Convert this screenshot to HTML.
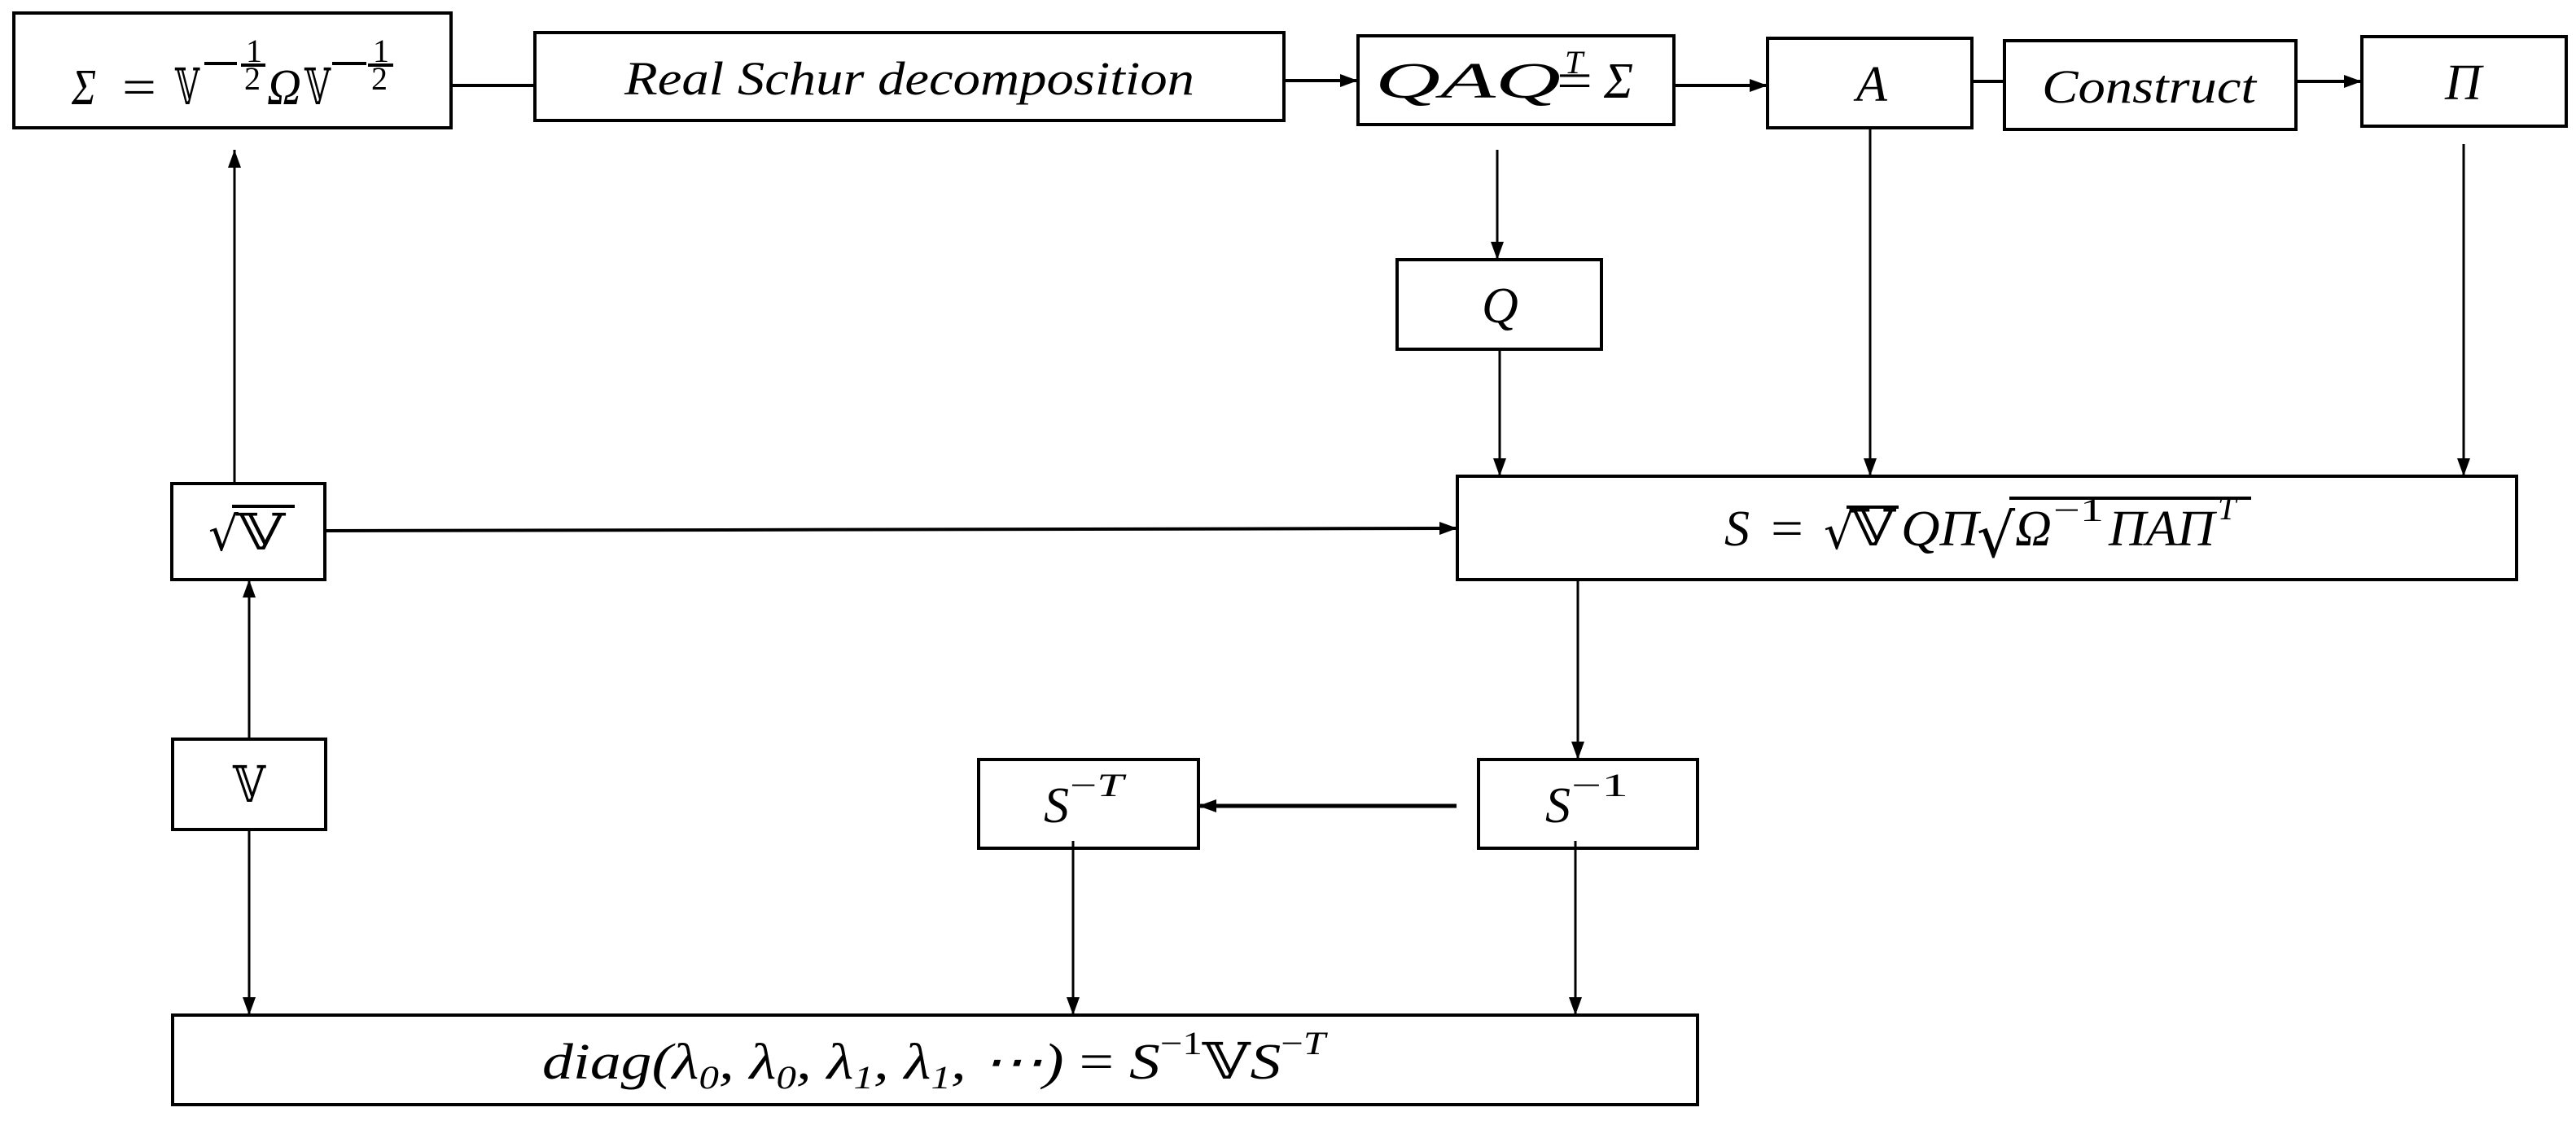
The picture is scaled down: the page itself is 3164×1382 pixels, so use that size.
<!DOCTYPE html>
<html><head><meta charset="utf-8"><style>
html,body{margin:0;padding:0;background:#fff;}
svg{display:block;}
text{font-family:"Liberation Serif",serif;font-style:italic;fill:#000;}
.dv{font-family:"DejaVu Serif","DejaVu Sans",serif;font-style:normal;}
.up{font-style:normal;}
</style></head><body>
<svg width="3164" height="1382" viewBox="0 0 3164 1382" xmlns="http://www.w3.org/2000/svg">
<defs>
<marker id="ah" viewBox="0 0 22 16" refX="22" refY="8" markerWidth="22" markerHeight="16" markerUnits="userSpaceOnUse" orient="auto">
<polygon points="0,0 22,8 0,16" fill="#000"/></marker>
</defs>
<g fill="none" stroke="#000" stroke-width="4">
<rect x="17" y="16" width="537" height="141"/>
<rect x="657" y="40" width="920" height="108"/>
<rect x="1668" y="44" width="388" height="109"/>
<rect x="2171" y="47" width="251" height="110"/>
<rect x="2462" y="50" width="358" height="109"/>
<rect x="2901" y="45" width="251" height="110"/>
<rect x="1716" y="319" width="251" height="110"/>
<rect x="1790" y="585" width="1301" height="127"/>
<rect x="211" y="594" width="188" height="118"/>
<rect x="212" y="908" width="188" height="111"/>
<rect x="1202" y="933" width="270" height="109"/>
<rect x="1816" y="933" width="269" height="109"/>
<rect x="212" y="1247" width="1873" height="110"/>
</g>
<g stroke="#000" stroke-width="3" fill="none">
<line x1="554" y1="105" x2="657" y2="105" stroke-width="4"/>
<line x1="1577" y1="99" x2="1668" y2="99" stroke-width="4" marker-end="url(#ah)"/>
<line x1="2056" y1="105" x2="2171" y2="105" stroke-width="4" marker-end="url(#ah)"/>
<line x1="2422" y1="100" x2="2462" y2="100" stroke-width="4"/>
<line x1="2820" y1="100" x2="2901" y2="100" stroke-width="4" marker-end="url(#ah)"/>
<line x1="1839" y1="184" x2="1839" y2="319" marker-end="url(#ah)"/>
<line x1="1842" y1="429" x2="1842" y2="585" marker-end="url(#ah)"/>
<line x1="2297" y1="157" x2="2297" y2="585" marker-end="url(#ah)"/>
<line x1="3026" y1="177" x2="3026" y2="585" marker-end="url(#ah)"/>
<line x1="399" y1="652" x2="1790" y2="649" stroke-width="4" marker-end="url(#ah)"/>
<line x1="288" y1="594" x2="288" y2="184" marker-end="url(#ah)"/>
<line x1="306" y1="908" x2="306" y2="712" marker-end="url(#ah)"/>
<line x1="306" y1="1019" x2="306" y2="1247" marker-end="url(#ah)"/>
<line x1="1938" y1="714" x2="1938" y2="933" marker-end="url(#ah)"/>
<line x1="1789" y1="990" x2="1472" y2="990" stroke-width="5" marker-end="url(#ah)"/>
<line x1="1318" y1="1033" x2="1318" y2="1247" marker-end="url(#ah)"/>
<line x1="1935" y1="1033" x2="1935" y2="1247" marker-end="url(#ah)"/>
</g>
<!-- Sigma formula -->
<g font-size="62">
<text x="88" y="128" textLength="30" lengthAdjust="spacingAndGlyphs">Σ</text>
<text class="up" x="150" y="128" textLength="42" lengthAdjust="spacingAndGlyphs">=</text>
<text class="dv" x="215" y="128" textLength="30" lengthAdjust="spacingAndGlyphs">𝕍</text>
<text x="328" y="128" textLength="42" lengthAdjust="spacingAndGlyphs">Ω</text>
<text class="dv" x="374" y="128" textLength="32" lengthAdjust="spacingAndGlyphs">𝕍</text>
</g>
<g stroke="#000" stroke-width="4">
<line x1="251" y1="78" x2="291" y2="78"/><line x1="296" y1="80" x2="326" y2="80"/>
<line x1="408" y1="78" x2="450" y2="78"/><line x1="452" y1="80" x2="483" y2="80"/>
</g>
<g font-size="40" class="up">
<text class="up" x="302" y="76">1</text><text class="up" x="300" y="110">2</text>
<text class="up" x="458" y="76">1</text><text class="up" x="456" y="110">2</text>
</g>
<text x="767" y="116" font-size="58" textLength="700" lengthAdjust="spacingAndGlyphs">Real Schur decomposition</text>
<text x="1689" y="120" font-size="62" textLength="228" lengthAdjust="spacingAndGlyphs">QAQ</text>
<text x="1922" y="90" font-size="40">T</text>
<text class="up" x="1912" y="120" font-size="62" textLength="44" lengthAdjust="spacingAndGlyphs" dx="0">=</text>
<text x="1970" y="120" font-size="62" textLength="36" lengthAdjust="spacingAndGlyphs">Σ</text>
<text x="2280" y="124" font-size="62">A</text>
<text x="2508" y="126" font-size="58" textLength="263" lengthAdjust="spacingAndGlyphs">Construct</text>
<text x="3003" y="122" font-size="62">Π</text>
<text x="1820" y="396" font-size="62">Q</text>
<!-- S formula -->
<g font-size="62">
<text x="2118" y="670">S</text>
<text class="up" x="2175" y="670" textLength="40" lengthAdjust="spacingAndGlyphs">=</text>
<text class="dv" x="2240" y="674" font-size="58">√</text>
<text class="dv" x="2272" y="670" textLength="56" lengthAdjust="spacingAndGlyphs">𝕍</text>
<text x="2335" y="670" textLength="95" lengthAdjust="spacingAndGlyphs">QΠ</text>
<text class="dv" x="2428" y="684" font-size="74">√</text>
<text x="2475" y="670" textLength="45" lengthAdjust="spacingAndGlyphs">Ω</text>
<text class="up" x="2522" y="640" font-size="40" textLength="62" lengthAdjust="spacingAndGlyphs">−1</text>
<text x="2590" y="670" textLength="130" lengthAdjust="spacingAndGlyphs">ΠAΠ</text>
<text x="2724" y="638" font-size="40">T</text>
</g>
<g stroke="#000" stroke-width="4">
<line x1="2268" y1="623" x2="2332" y2="623"/>
<line x1="2468" y1="612" x2="2765" y2="612"/>
<line x1="285" y1="622" x2="362" y2="622"/>
</g>
<text class="dv" x="256" y="676" font-size="58">√</text>
<text class="dv" x="290" y="675" font-size="62" textLength="60" lengthAdjust="spacingAndGlyphs">𝕍</text>
<text class="dv" x="286" y="985" font-size="62" textLength="40" lengthAdjust="spacingAndGlyphs">𝕍</text>
<text x="1282" y="1010" font-size="62">S</text>
<text x="1314" y="978" font-size="40" textLength="66" lengthAdjust="spacingAndGlyphs"><tspan class="up">−</tspan>T</text>
<text x="1898" y="1010" font-size="62">S</text>
<text class="up" x="1930" y="978" font-size="40" textLength="70" lengthAdjust="spacingAndGlyphs">−1</text>
<!-- diag -->
<text x="666" y="1325" font-size="62" textLength="962" lengthAdjust="spacingAndGlyphs">diag(λ<tspan font-size="40" dy="12">0</tspan><tspan dy="-12">, λ</tspan><tspan font-size="40" dy="12">0</tspan><tspan dy="-12">, λ</tspan><tspan font-size="40" dy="12">1</tspan><tspan dy="-12">, λ</tspan><tspan font-size="40" dy="12">1</tspan><tspan dy="-12">, ⋯) </tspan><tspan class="up">=</tspan> S<tspan class="up" font-size="40" dy="-30">−1</tspan><tspan class="dv" dy="30">𝕍</tspan>S<tspan font-size="40" dy="-30"><tspan class="up">−</tspan>T</tspan></text>
</svg>
</body></html>
